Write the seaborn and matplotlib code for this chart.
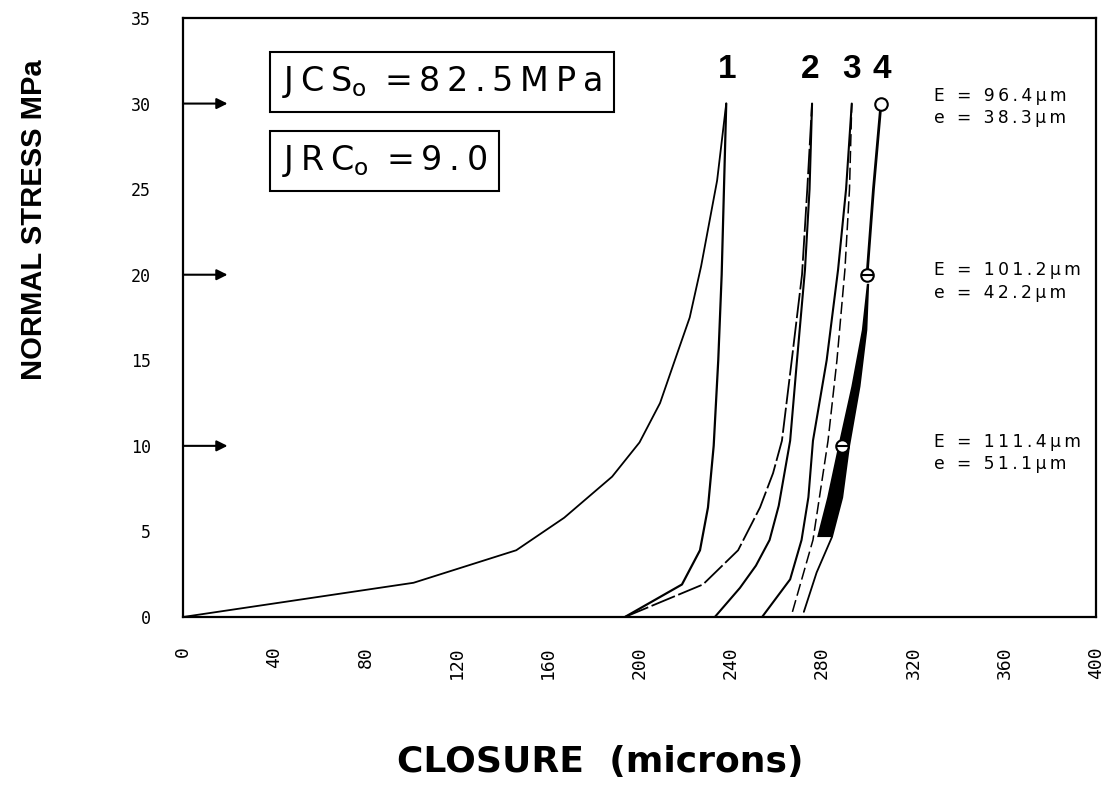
import matplotlib
matplotlib.use("Agg")
import matplotlib.pyplot as plt
import seaborn as sns
import pandas as pd
import numpy as np

sns.set_theme(style="white")
plt.rcParams['font.family'] = ['Liberation Sans', 'DejaVu Sans']
plt.rcParams['text.color'] = 'black'
plt.rcParams['axes.labelcolor'] = 'black'
plt.rcParams['xtick.color'] = 'black'
plt.rcParams['ytick.color'] = 'black'

# ---- data (closure in microns, normal stress in MPa) ----
curveA_x = [0, 101, 146, 167, 188, 200, 209, 216, 222, 227, 234, 238]
curveA_y = [0, 2.0, 3.9, 5.8, 8.2, 10.2, 12.5, 15.2, 17.5, 20.5, 25.5, 30]

curve1_x = [193.6, 218.6, 226.5, 230, 232.5, 234.5, 236, 237, 238]
curve1_y = [0, 1.9, 3.9, 6.4, 10, 15, 20, 25, 30]

curve2a_x = [193.6, 227.8, 243.2, 252.8, 258.5, 262.4, 266.7, 271.2, 273.5, 275.6]
curve2a_y = [0, 1.9, 3.9, 6.4, 8.4, 10.3, 15, 20, 25, 30]

curve2b_x = [233, 244, 251, 257, 261, 266, 269, 272.5, 274.5, 275.6]
curve2b_y = [0, 1.7, 3.0, 4.5, 6.5, 10.3, 15, 20.3, 25, 30]

curve3a_x = [253.7, 266, 271, 274, 276, 282, 287, 290.5, 293]
curve3a_y = [0, 2.2, 4.5, 7, 10.3, 15, 20.3, 25, 30]

curve3b_x = [267, 276, 282.6, 286.5, 290, 292, 293]
curve3b_y = [0.3, 4.5, 10.3, 15, 20.3, 25, 30]

curve4_low_x = [272, 277.6, 284.4]
curve4_low_y = [0.3, 2.6, 4.7]
curve4_up_x = [299.7, 302.5, 305.8]
curve4_up_y = [20, 25, 30]

band_y = [4.7, 7, 10, 13.5, 16.8, 19.5]
band_left = [277.6, 282, 286.8, 292.6, 297.2, 299.4]
band_right = [284.5, 289, 292.0, 296.6, 299.6, 300.4]

marker_open_x = [305.8]
marker_open_y = [30]
marker_bar_x = [299.7, 288.7]
marker_bar_y = [20, 10]

arrow_levels = [10, 20, 30]
curve_labels = ["1", "2", "3", "4"]
curve_label_x = [238.3, 274.7, 293, 306]

E_texts = ["E = 96.4\u03bcm\ne = 38.3\u03bcm",
           "E = 101.2\u03bcm\ne = 42.2\u03bcm",
           "E = 111.4\u03bcm\ne = 51.1\u03bcm"]
E_text_y = [29.8, 19.6, 9.6]

xticks = [0, 40, 80, 120, 160, 200, 240, 280, 320, 360, 400]
yticks = [0, 5, 10, 15, 20, 25, 30, 35]


def spaced(s, sep='\u2009'):
    out = []
    for line in s.split('\n'):
        out.append(sep.join(list(line)))
    return '\n'.join(out)


# ---- figure ----
fig = plt.figure(figsize=(11.13, 7.87), dpi=100)
ax = fig.add_axes([183/1113, 1-617/787, (1096-183)/1113, (617-18)/787])


def draw(xs, ys, lw=1.3, dashes=None):
    df = pd.DataFrame({"x": xs, "y": ys})
    n0 = len(ax.lines)
    sns.lineplot(data=df, x="x", y="y", sort=False, estimator=None,
                 color="black", lw=lw, ax=ax)
    if dashes is not None:
        ax.lines[n0].set_dashes(dashes)


draw(curveA_x, curveA_y)
draw(curve1_x, curve1_y, lw=1.6)
draw(curve2a_x, curve2a_y, lw=1.3, dashes=(14, 2))
draw(curve2b_x, curve2b_y, lw=1.5)
draw(curve3a_x, curve3a_y, lw=1.5)
draw(curve3b_x, curve3b_y, lw=1.1, dashes=(8, 3))
draw(curve4_low_x, curve4_low_y, lw=1.3)
draw(curve4_up_x, curve4_up_y, lw=2.0)

ax.fill_betweenx(band_y, band_left, band_right, color="black", lw=0)

ax.plot(marker_open_x, marker_open_y, 'o', mfc='white', mec='black', ms=9, mew=1.5)
ax.plot(marker_bar_x, marker_bar_y, 'o', mfc='white', mec='black', ms=9, mew=1.5)
ax.plot(marker_bar_x, marker_bar_y, '_', color='black', ms=9, mew=1.5)

for lv in arrow_levels:
    ax.annotate('', xy=(19.5, lv), xytext=(0, lv),
                arrowprops=dict(arrowstyle='-|>', color='black', lw=1.5,
                                mutation_scale=16, shrinkA=0, shrinkB=0))

for lab, lx in zip(curve_labels, curve_label_x):
    ax.text(lx, 32.0, lab, ha='center', va='center', fontsize=24,
            fontweight='bold', color='black')

for t, ty in zip(E_texts, E_text_y):
    ax.text(329, ty, spaced(t), ha='left', va='center', fontsize=12.3,
            linespacing=1.3, color='black', family='DejaVu Sans')

box = dict(boxstyle='square,pad=0.36', fc='white', ec='black', lw=1.5)
ts = '\u2009'
ax.text(43.5, 31.25,
        ts.join("JCS") + r"$_{\mathregular{o}}$" + ts + " " + ts.join("=82.5MPa"),
        ha='left', va='center', fontsize=24, family='DejaVu Sans', bbox=box)
ax.text(43.5, 26.65,
        ts.join("JRC") + r"$_{\mathregular{o}}$" + ts + " " + ts.join("=9.0"),
        ha='left', va='center', fontsize=24, family='DejaVu Sans', bbox=box)

ax.set_xlim(0, 400)
ax.set_ylim(0, 35)
ax.set_xticks(xticks)
ax.set_xticklabels([str(v) for v in xticks], rotation=90, fontsize=13,
                   family='DejaVu Sans Mono')
ax.set_yticks(yticks)
ax.set_yticklabels([str(v) for v in yticks], fontsize=12, family='DejaVu Sans Mono')
ax.set_yticks([5, 15, 25], minor=True)
ax.tick_params(axis='x', direction='in', length=12.5, width=1.5, pad=21)
ax.tick_params(axis='y', which='major', direction='in', length=0, pad=23)
ax.tick_params(axis='y', which='minor', direction='in', length=17, width=1.5, left=True)
ax.set_xlabel('')
ax.set_ylabel('')
for s in ax.spines.values():
    s.set_color('black')
    s.set_linewidth(1.6)
    s.set_visible(True)

fig.text(600/1113, 1-762/787, "CLOSURE  (microns)", ha='center', va='center',
         fontsize=26, fontweight='bold', family='DejaVu Sans')
fig.text(34/1113, 1-220/787, "NORMAL STRESS MPa", ha='center', va='center',
         rotation=90, fontsize=21, fontweight='bold')

fig.savefig("out.png", dpi=100, facecolor='white')
